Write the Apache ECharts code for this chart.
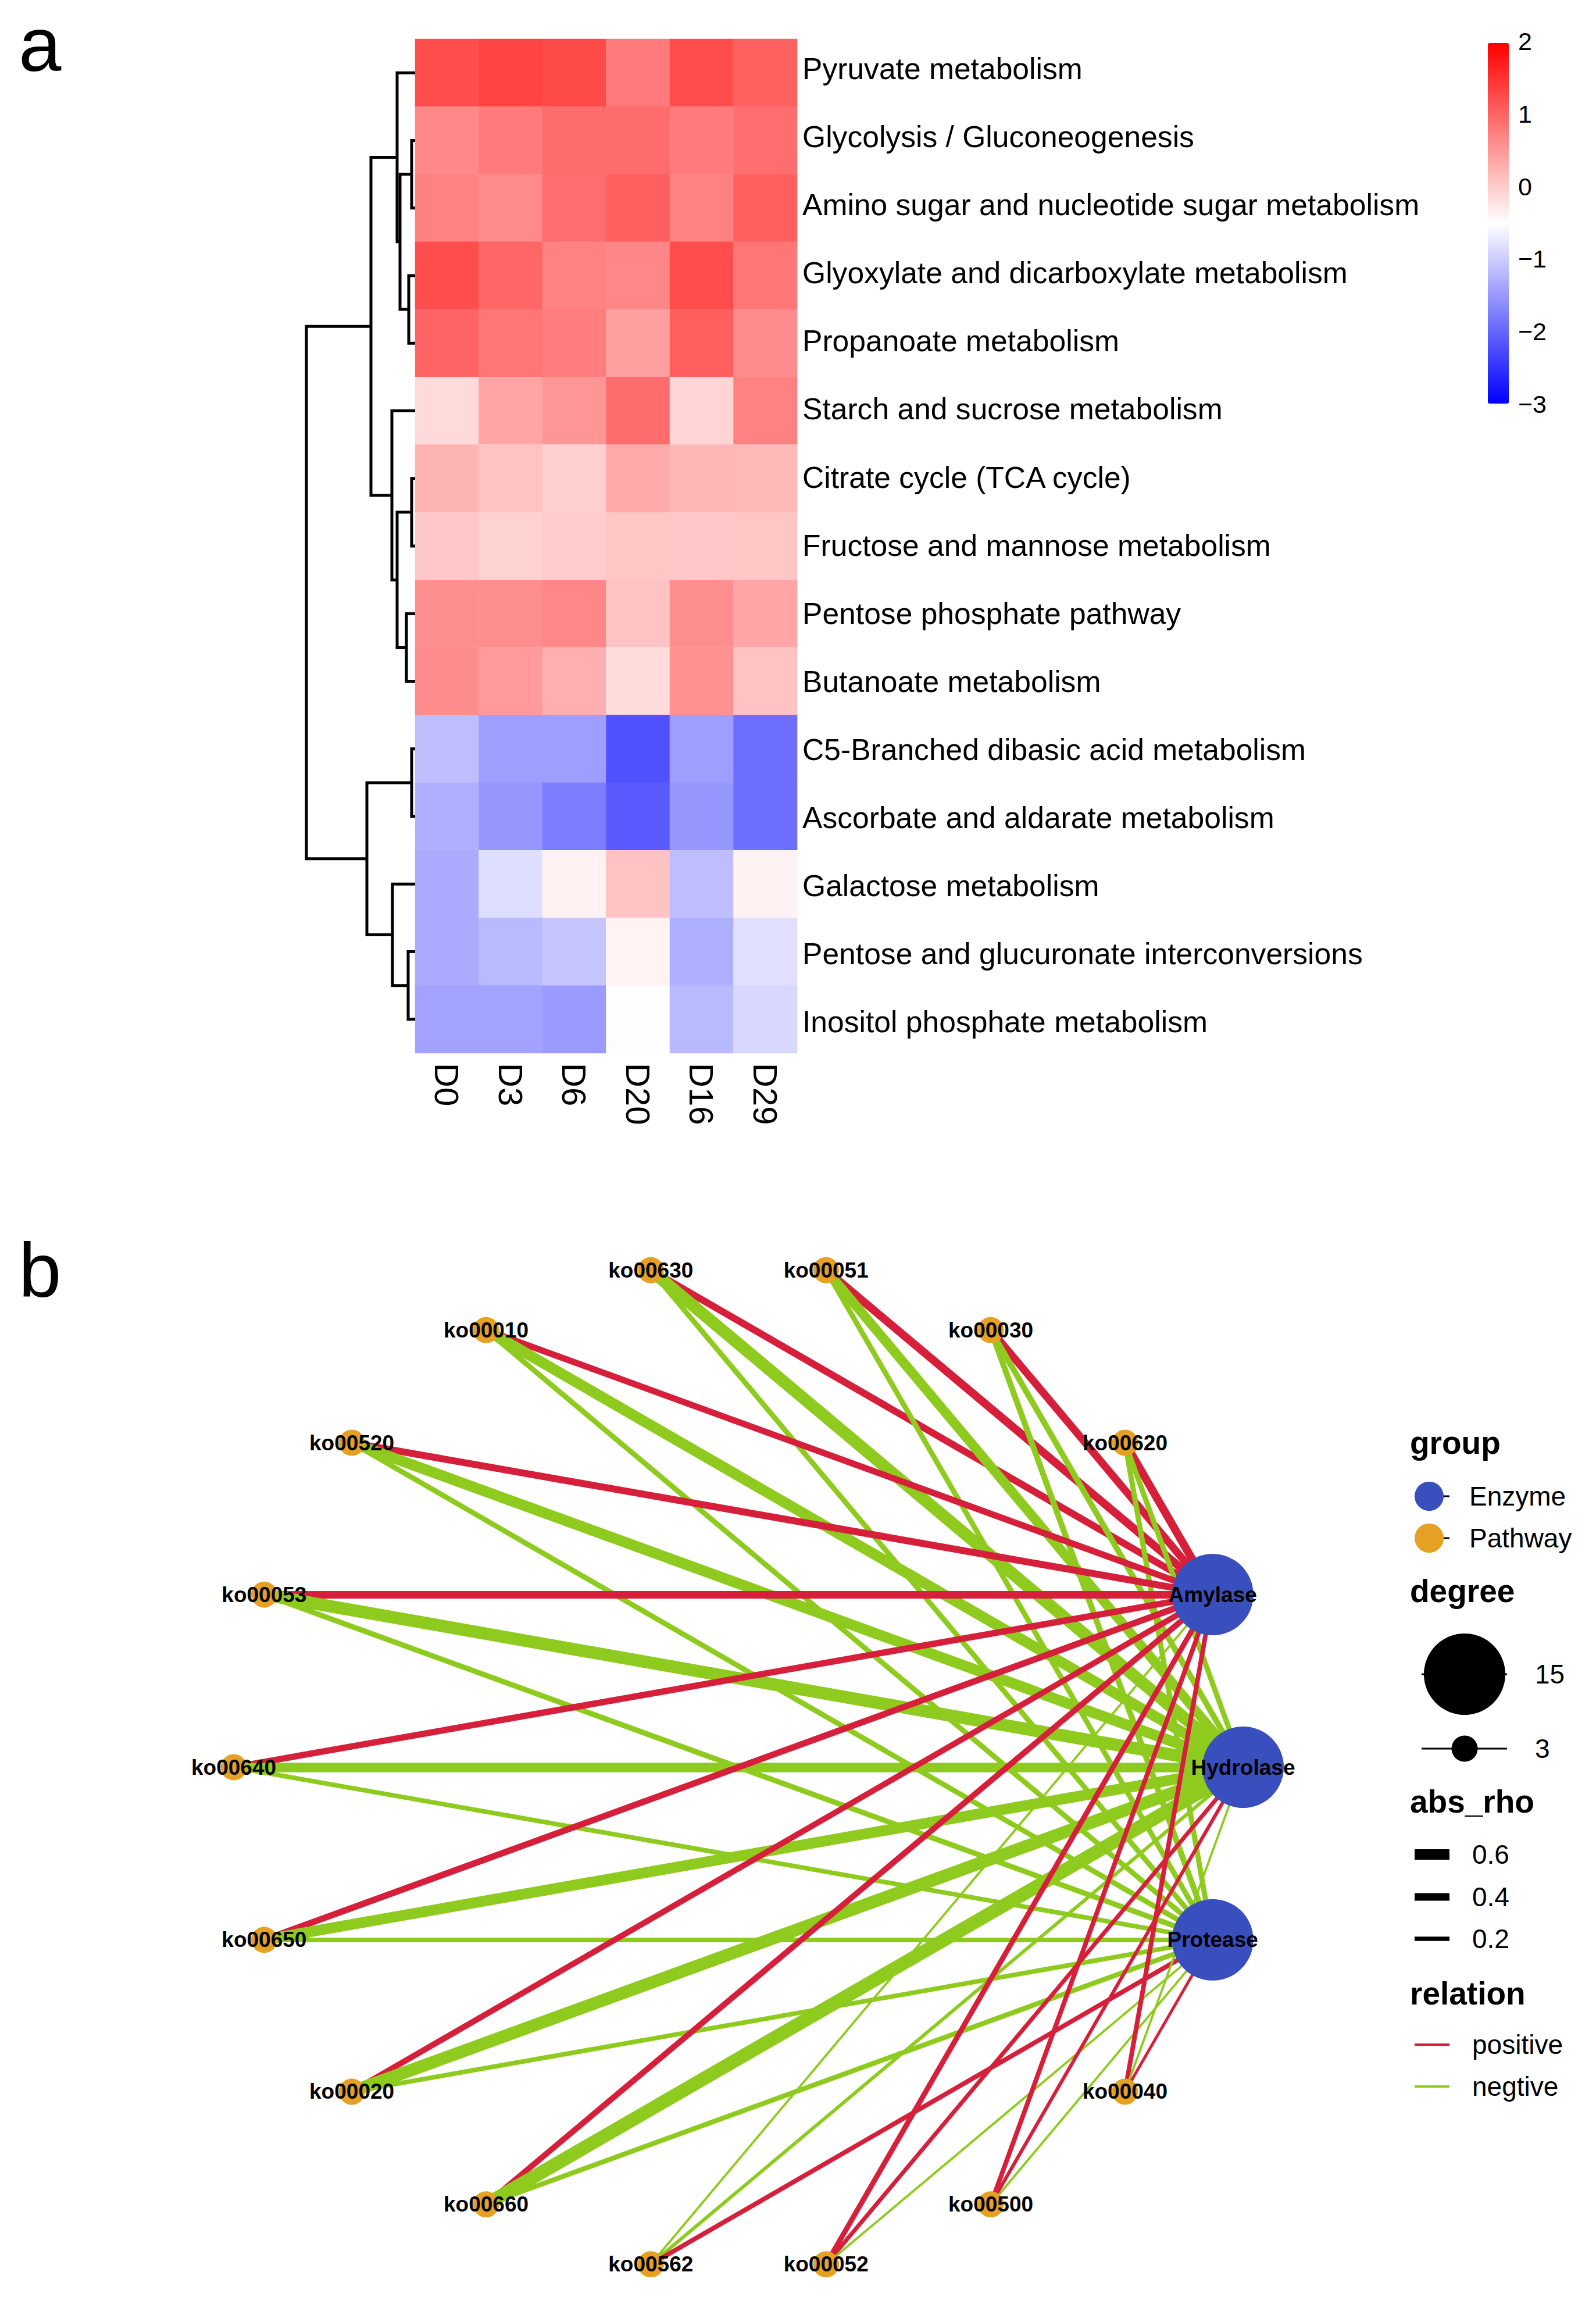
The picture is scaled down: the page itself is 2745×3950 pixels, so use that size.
<!DOCTYPE html>
<html><head><meta charset="utf-8">
<script src="https://cdn.jsdelivr.net/npm/echarts@6/dist/echarts.min.js"></script>
<style>html,body{margin:0;padding:0;background:#fff;}#c{width:2745px;height:3950px;}</style>
</head><body><div id="c"></div>
<script>
const FONT = 'Liberation Sans, Arial, Helvetica, sans-serif';

// ---------- panel a : heatmap ----------
const heatCols = ['D0', 'D3', 'D6', 'D20', 'D16', 'D29'];
const heatRows = [
  'Pyruvate metabolism',
  'Glycolysis / Gluconeogenesis',
  'Amino sugar and nucleotide sugar metabolism',
  'Glyoxylate and dicarboxylate metabolism',
  'Propanoate metabolism',
  'Starch and sucrose metabolism',
  'Citrate cycle (TCA cycle)',
  'Fructose and mannose metabolism',
  'Pentose phosphate pathway',
  'Butanoate metabolism',
  'C5-Branched dibasic acid metabolism',
  'Ascorbate and aldarate metabolism',
  'Galactose metabolism',
  'Pentose and glucuronate interconversions',
  'Inositol phosphate metabolism'
];
const heatValues = [
  [1.25, 1.33, 1.27, 0.80, 1.25, 1.06],
  [0.67, 0.80, 0.94, 0.94, 0.80, 0.92],
  [0.73, 0.65, 0.92, 1.07, 0.73, 1.07],
  [1.25, 1.00, 0.73, 0.68, 1.25, 0.84],
  [1.02, 0.84, 0.77, 0.43, 1.07, 0.63],
  [-0.14, 0.38, 0.53, 0.94, -0.08, 0.73],
  [0.24, 0.09, -0.04, 0.33, 0.22, 0.19],
  [0.04, -0.06, -0.01, 0.06, 0.04, 0.06],
  [0.61, 0.61, 0.68, 0.09, 0.61, 0.38],
  [0.63, 0.48, 0.28, -0.16, 0.58, 0.09],
  [-1.14, -1.45, -1.45, -2.22, -1.45, -1.92],
  [-1.28, -1.53, -1.77, -2.12, -1.53, -1.92],
  [-1.33, -0.82, -0.37, 0.09, -1.14, -0.37],
  [-1.33, -1.19, -1.06, -0.38, -1.28, -0.79],
  [-1.41, -1.41, -1.48, -0.52, -1.19, -0.89]
];
const colorMin = -3, colorMax = 2;

// row dendrogram (hclust-like merges; numbers = leaf rows, 'mK' = merge K)
const dendroLeft   = [1, 3, 'm0', 0, 6, 8, 'm4', 5, 'm3', 10, 13, 12, 'm9', 'm8'];
const dendroRight  = [2, 4, 'm1', 'm2', 7, 9, 'm5', 'm6', 'm7', 11, 14, 'm10', 'm11', 'm12'];
const dendroHeight = [6, 11, 26, 31, 6, 15, 31, 40, 76, 6, 12, 39, 83, 187];

// ---------- panel b : network ----------
const circleOrder = ['Hydrolase', 'Amylase', 'ko00620', 'ko00030', 'ko00051', 'ko00630', 'ko00010',
  'ko00520', 'ko00053', 'ko00640', 'ko00650', 'ko00020', 'ko00660', 'ko00562', 'ko00052',
  'ko00500', 'ko00040', 'Protease'];
const groups = ['Enzyme', 'Pathway'];
const enzymes = ['Amylase', 'Hydrolase', 'Protease'];
const pathways = ['ko00630', 'ko00051', 'ko00030', 'ko00620', 'ko00010', 'ko00520', 'ko00053',
  'ko00640', 'ko00650', 'ko00020', 'ko00660', 'ko00562', 'ko00052', 'ko00500', 'ko00040'];
const rhoAmylase   = [0.37, 0.44, 0.41, 0.44, 0.33, 0.37, 0.41, 0.33, 0.33, 0.30, 0.30, -0.07, 0.26, 0.22, 0.22];
const rhoHydrolase = [-0.70, -0.54, -0.30, -0.26, -0.61, -0.61, -0.72, -0.54, -0.61, -0.72, -0.78, -0.15, 0.19, 0.15, -0.07];
const rhoProtease  = [-0.26, -0.26, -0.30, -0.26, -0.26, -0.26, -0.27, -0.22, -0.22, -0.22, -0.24, 0.22, -0.07, -0.07, 0.11];
const rhoBreaks = [0.6, 0.4, 0.2];
const degreeBreaks = [15, 3];
const relationNames = ['positive', 'negtive'];

const RED = '#D61F3A', GREEN = '#8FCB1F', BLUE = '#3A4FBE', ORANGE = '#E6A023';
const edgeWidth = r => 2 + 27 * Math.abs(r);
const nodeSize = d => 45 + (d - 3) * 95 / 12;

// ---- row-label font: narrow face if installed, sized to the reference label length
function textWidth(font, s) {
  const c = document.createElement('canvas').getContext('2d');
  c.font = font; return c.measureText(s).width;
}
const longest = heatRows.reduce((a, b) => a.length > b.length ? a : b);
const hasNarrow = Math.abs(textWidth('100px monospace', longest) -
  textWidth('100px "Liberation Sans Narrow", monospace', longest)) > 1;
const ROWFONT = hasNarrow ? '"Liberation Sans Narrow", ' + FONT : FONT;
const rowW100 = textWidth('100px ' + (hasNarrow ? '"Liberation Sans Narrow"' : '"Liberation Sans"'), longest);
const ROWSIZE = Math.min(64, Math.round(1061 * 100 / rowW100 * 10) / 10);
const labelPitch = 117.07, firstBaseline = 136;
const labelTop = firstBaseline - 0.3465 * ROWSIZE - labelPitch / 2;

// ---- build heatmap data
const heatData = [];
heatValues.forEach((row, r) => row.forEach((v, c) => heatData.push([c, r, v])));

// ---- build dendrogram segments
const mY = {}, mH = {};
const yOf = k => typeof k === 'number' ? k + 0.5 : mY[k];
const hOf = k => typeof k === 'number' ? 0 : mH[k];
const dendroData = dendroHeight.map((h, i) => {
  const a = dendroLeft[i], b = dendroRight[i];
  const ya = yOf(a), yb = yOf(b);
  mY['m' + i] = (ya + yb) / 2; mH['m' + i] = h;
  return { coords: [[hOf(a), ya], [h, ya], [h, yb], [hOf(b), yb]] };
});

// ---- build network
const links = [];
const rhoByEnzyme = { Amylase: rhoAmylase, Hydrolase: rhoHydrolase, Protease: rhoProtease };
pathways.forEach((p, i) => {
  enzymes.forEach(e => {
    const r = rhoByEnzyme[e][i];
    links.push({ source: p, target: e, value: r,
      lineStyle: { width: edgeWidth(r), color: r > 0 ? RED : GREEN } });
  });
});
const degree = {};
links.forEach(l => { degree[l.source] = (degree[l.source] || 0) + 1; degree[l.target] = (degree[l.target] || 0) + 1; });
const graphNodes = circleOrder.map((n, i) => {
  const ang = i * 2 * Math.PI / circleOrder.length;
  return { name: n, value: [Math.cos(ang), Math.sin(ang)],
    category: enzymes.includes(n) ? 0 : 1, symbolSize: nodeSize(degree[n]) };
});

// ---- legend (ggplot style) for degree / abs_rho / relation
const LX = 2425, KX0 = 2433, KX1 = 2493, TX = 2532;
const txt = (t, x, y, size, bold, lh) => ({ type: 'text', x: x, y: y, z: 10,
  style: { text: t, fontSize: size, fontWeight: bold ? 'bold' : 'normal', fontFamily: FONT,
    fill: '#000', align: 'left', verticalAlign: 'middle', lineHeight: lh || Math.round(size * 1.2) } });
const graphics = [
  txt('a', 32, 76, 132, false, 132),
  txt('b', 32, 2184, 132, false, 132),
  txt('group', LX, 2481, 55, true),
  { type: 'line', z: 1, shape: { x1: KX0, y1: 2573, x2: KX1, y2: 2573 }, style: { stroke: '#000', lineWidth: 3 } },
  { type: 'line', z: 1, shape: { x1: KX0, y1: 2645, x2: KX1, y2: 2645 }, style: { stroke: '#000', lineWidth: 3 } },
  txt('degree', LX, 2736, 55, true),
  txt('abs_rho', LX, 3098, 55, true),
  txt('relation', LX, 3428, 55, true)
];
const degY = [2879, 3007];
degreeBreaks.forEach((d, i) => {
  graphics.push({ type: 'line', z: 5, shape: { x1: 2445, y1: degY[i], x2: 2592, y2: degY[i] }, style: { stroke: '#000', lineWidth: 3 } });
  graphics.push({ type: 'circle', z: 6, shape: { cx: 2519, cy: degY[i], r: nodeSize(d) / 2 }, style: { fill: '#000' } });
  graphics.push(txt(String(d), 2640, degY[i], 46, false));
});
const rhoY = [3189, 3262, 3334];
rhoBreaks.forEach((r, i) => {
  const w = edgeWidth(r);
  graphics.push({ type: 'rect', z: 5, shape: { x: KX0, y: rhoY[i] - w / 2, width: KX1 - KX0, height: w }, style: { fill: '#000' } });
  graphics.push(txt(r.toFixed(1), TX, rhoY[i], 46, false));
});
const relY = [3516, 3588];
relationNames.forEach((n, i) => {
  graphics.push({ type: 'line', z: 5, shape: { x1: KX0, y1: relY[i], x2: KX1, y2: relY[i] }, style: { stroke: i === 0 ? RED : GREEN, lineWidth: 4 } });
  graphics.push(txt(n, TX, relY[i], 46, false));
});

const chart = echarts.init(document.getElementById('c'), null, { renderer: 'svg' });
chart.setOption({
  animation: false,
  backgroundColor: '#ffffff',
  textStyle: { fontFamily: FONT },
  grid: [
    { left: 714, top: 67, width: 657, height: 1744 },
    { left: 526, top: 67, width: 188, height: 1744 },
    { left: 402, top: 2171, width: 1736, height: 1736 },
    { left: 2559, top: 71, width: 36, height: 624 },
    { left: 714, top: labelTop, width: 657, height: labelPitch * heatRows.length }
  ],
  xAxis: [
    { type: 'category', gridIndex: 0, data: heatCols, position: 'bottom',
      axisLine: { show: false }, axisTick: { show: false }, splitLine: { show: false },
      axisLabel: { rotate: -90, fontSize: 58, color: '#000', margin: 17, interval: 0, fontFamily: FONT } },
    { type: 'value', gridIndex: 1, min: 0, max: 188, inverse: true, show: false },
    { type: 'value', gridIndex: 2, min: -1, max: 1, show: false },
    { type: 'value', gridIndex: 3, min: 0, max: 1, show: false },
    { type: 'value', gridIndex: 4, min: 0, max: 1, show: false }
  ],
  yAxis: [
    { type: 'category', gridIndex: 0, data: heatRows, inverse: true, position: 'right',
      axisLine: { show: false }, axisTick: { show: false }, splitLine: { show: false },
      axisLabel: { show: false } },
    { type: 'value', gridIndex: 1, min: 0, max: 15, inverse: true, show: false },
    { type: 'value', gridIndex: 2, min: -1, max: 1, show: false },
    { type: 'value', gridIndex: 3, min: colorMin, max: colorMax, interval: 1, position: 'right',
      axisLine: { show: false }, axisTick: { show: false }, splitLine: { show: false },
      axisLabel: { fontSize: 43, color: '#000', margin: 16, fontFamily: FONT, showMinLabel: true, showMaxLabel: true,
        formatter: v => String(v).replace('-', '\u2212') } },
    { type: 'category', gridIndex: 4, data: heatRows, inverse: true, position: 'right',
      axisLine: { show: false }, axisTick: { show: false }, splitLine: { show: false },
      axisLabel: { fontSize: ROWSIZE, color: '#000', margin: 9, interval: 0, fontFamily: ROWFONT } }
  ],
  visualMap: {
    type: 'continuous', seriesIndex: 0, dimension: 2, min: colorMin, max: colorMax,
    calculable: false, orient: 'vertical', left: 2559, top: 74, itemWidth: 36, itemHeight: 620,
    padding: 0, hoverLink: false, showLabel: false,
    inRange: { color: ['#0000FF', '#FFFFFF', '#FF0000'] }
  },
  legend: {
    data: groups, orient: 'vertical', left: KX0, top: 2548, padding: 0,
    itemWidth: 60, itemHeight: 50, itemGap: 22, icon: 'circle', selectedMode: false,
    textStyle: { fontSize: 46, color: '#000', fontFamily: FONT, padding: [0, 0, 0, 34] }
  },
  graphic: graphics,
  series: [
    { type: 'heatmap', xAxisIndex: 0, yAxisIndex: 0, data: heatData,
      itemStyle: { borderWidth: 0 }, emphasis: { disabled: true } },
    { type: 'lines', coordinateSystem: 'cartesian2d', xAxisIndex: 1, yAxisIndex: 1, polyline: true,
      data: dendroData, silent: true,
      lineStyle: { color: '#000', width: 5, opacity: 1, join: 'miter', cap: 'butt' } },
    { type: 'graph', coordinateSystem: 'cartesian2d', xAxisIndex: 2, yAxisIndex: 2, layout: 'none',
      roam: false, data: graphNodes, links: links,
      categories: [
        { name: groups[0], itemStyle: { color: BLUE } },
        { name: groups[1], itemStyle: { color: ORANGE } }
      ],
      label: { show: true, position: 'inside', fontSize: 37, fontWeight: 'bold', color: '#000', fontFamily: FONT },
      lineStyle: { opacity: 1, curveness: 0 },
      itemStyle: { opacity: 1 },
      emphasis: { disabled: true } }
  ]
});
</script></body></html>
